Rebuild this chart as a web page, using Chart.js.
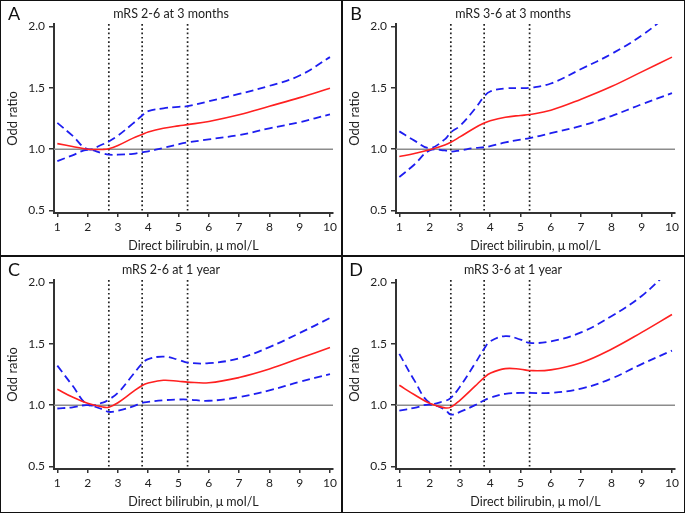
<!DOCTYPE html>
<html>
<head>
<meta charset="utf-8">
<script src="https://cdn.jsdelivr.net/npm/chart.js@4.4.1/dist/chart.umd.min.js"></script>
<style>
  html, body { margin: 0; padding: 0; background: #fff; }
  #fig { position: relative; width: 685px; height: 513px; }
  .frame { position: absolute; box-sizing: border-box; border: 1.5px solid #111; left: 0; top: 0; width: 685px; height: 513px; }
  .vdiv { position: absolute; left: 341px; top: 0; width: 1.5px; height: 513px; background: #111; }
  .hdiv { position: absolute; left: 0; top: 255px; width: 685px; height: 1.5px; background: #111; }
  canvas { position: absolute; }
</style>
</head>
<body>
<div id="fig">
  <div class="frame"></div>
  <div class="vdiv"></div>
  <div class="hdiv"></div>
  <canvas id="chartA" width="342" height="256" style="left:0;top:0"></canvas>
  <canvas id="chartB" width="342" height="256" style="left:342px;top:0"></canvas>
  <canvas id="chartC" width="342" height="256" style="left:0;top:256px"></canvas>
  <canvas id="chartD" width="342" height="256" style="left:342px;top:256px"></canvas>
</div>
<script>
// bilirubin values where the curves were read
const xs = [1, 1.5, 2, 2.5, 2.7, 3, 3.5, 3.8, 4, 4.5, 5, 5.3, 6, 7, 8, 9, 10];
const xTicks = [1, 2, 3, 4, 5, 6, 7, 8, 9, 10];
const yTicks = [0.5, 1.0, 1.5, 2.0];
const cutoffs = [2.7, 3.8, 5.3];
const refValue = 1.0;

const letters = ["A", "B", "C", "D"];
const titles = ["mRS 2-6 at 3 months", "mRS 3-6 at 3 months", "mRS 2-6 at 1 year", "mRS 3-6 at 1 year"];

// A: mRS 2-6 at 3 months
const aOR    = [1.045, 1.022, 1.00, 0.998, 1.003, 1.03, 1.09, 1.12, 1.14, 1.17, 1.19, 1.20, 1.226, 1.28, 1.35, 1.42, 1.497];
const aUpper = [1.214, 1.11, 1.0, 1.04, 1.063, 1.11, 1.21, 1.275, 1.31, 1.333, 1.345, 1.35, 1.39, 1.45, 1.516, 1.60, 1.75];
const aLower = [0.902, 0.95, 0.995, 0.965, 0.955, 0.955, 0.962, 0.975, 0.983, 1.01, 1.04, 1.055, 1.08, 1.115, 1.17, 1.22, 1.284];

// B: mRS 3-6 at 3 months
const bOR    = [0.94, 0.965, 0.995, 1.035, 1.057, 1.10, 1.175, 1.213, 1.232, 1.26, 1.275, 1.282, 1.317, 1.407, 1.51, 1.63, 1.75];
const bUpper = [1.145, 1.07, 1.01, 1.08, 1.137, 1.19, 1.33, 1.43, 1.47, 1.495, 1.497, 1.50, 1.535, 1.653, 1.776, 1.926, 2.12];
const bLower = [0.773, 0.875, 0.99, 0.99, 0.98, 0.99, 1.01, 1.016, 1.025, 1.055, 1.078, 1.09, 1.13, 1.19, 1.27, 1.366, 1.456];

// C: mRS 2-6 at 1 year
const cOR    = [1.13, 1.066, 1.015, 0.985, 0.984, 1.02, 1.11, 1.16, 1.18, 1.203, 1.195, 1.188, 1.183, 1.225, 1.294, 1.382, 1.47];
const cUpper = [1.322, 1.16, 1.005, 1.02, 1.046, 1.10, 1.25, 1.34, 1.375, 1.396, 1.37, 1.347, 1.342, 1.382, 1.473, 1.588, 1.71];
const cLower = [0.973, 0.982, 1.0, 0.965, 0.945, 0.955, 0.99, 1.019, 1.027, 1.04, 1.046, 1.046, 1.036, 1.066, 1.121, 1.19, 1.253];

// D: mRS 3-6 at 1 year
const dOR    = [1.162, 1.085, 1.015, 0.978, 0.984, 1.04, 1.155, 1.225, 1.26, 1.298, 1.293, 1.282, 1.288, 1.346, 1.456, 1.593, 1.739];
const dUpper = [1.418, 1.20, 1.02, 1.035, 1.06, 1.15, 1.34, 1.46, 1.52, 1.563, 1.535, 1.508, 1.52, 1.593, 1.725, 1.89, 2.12];
const dLower = [0.956, 0.978, 1.005, 0.965, 0.923, 0.945, 1.0, 1.04, 1.06, 1.093, 1.10, 1.10, 1.10, 1.135, 1.217, 1.335, 1.445];

const FONT = "Lato, 'Open Sans', sans-serif";
const RED = "rgb(255, 32, 32)";
const BLUE = "rgb(30, 30, 240)";

function pts(vals) {
  return xs.map((x, i) => ({ x: x, y: vals[i] }));
}

const decor = {
  id: "decor",
  beforeDatasetsDraw(chart, args, opts) {
    const { ctx, chartArea, scales } = chart;
    ctx.save();
    // reference line at OR = 1
    const y1 = scales.y.getPixelForValue(refValue);
    ctx.strokeStyle = "#8c8c8c";
    ctx.lineWidth = 1.5;
    ctx.beginPath();
    ctx.moveTo(chartArea.left, y1);
    ctx.lineTo(chartArea.right, y1);
    ctx.stroke();
    // dotted cut-off lines
    ctx.strokeStyle = "#222";
    ctx.lineWidth = 1.7;
    ctx.setLineDash([1.7, 2.6]);
    cutoffs.forEach(c => {
      const x = scales.x.getPixelForValue(c);
      ctx.beginPath();
      ctx.moveTo(x, chartArea.top);
      ctx.lineTo(x, chartArea.bottom);
      ctx.stroke();
    });
    ctx.restore();
  },
  afterDraw(chart, args, opts) {
    const ctx = chart.ctx;
    ctx.save();
    ctx.fillStyle = "#111";
    ctx.textBaseline = "middle";
    ctx.textAlign = "center";
    ctx.font = "18px " + FONT;
    ctx.fillText(opts.letter, 14, 14);
    ctx.font = "12.5px " + FONT;
    ctx.fillStyle = "#222";
    ctx.fillText(opts.title, 171, 14);
    ctx.restore();
  }
};

function makePanel(id, idx, orVals, upVals, loVals) {
  new Chart(document.getElementById(id), {
    type: "line",
    data: {
      datasets: [
        { data: pts(orVals), borderColor: RED, borderWidth: 1.6, pointRadius: 0, tension: 0.4 },
        { data: pts(upVals), borderColor: BLUE, borderWidth: 1.8, borderDash: [8, 4.5], pointRadius: 0, tension: 0.4 },
        { data: pts(loVals), borderColor: BLUE, borderWidth: 1.8, borderDash: [8, 4.5], pointRadius: 0, tension: 0.4 }
      ]
    },
    options: {
      responsive: false,
      animation: false,
      layout: { padding: { top: 24, right: 9, left: 0, bottom: 0 } },
      plugins: {
        legend: { display: false },
        tooltip: { enabled: false },
        decor: { letter: letters[idx], title: titles[idx] }
      },
      scales: {
        x: {
          type: "linear",
          min: 0.89,
          max: 10.1,
          afterBuildTicks: s => { s.ticks = xTicks.map(v => ({ value: v })); },
          afterFit: s => { s.height = 43; },
          grid: { drawOnChartArea: false, drawTicks: true, tickLength: 4, color: "#333", lineWidth: 1.5 },
          border: { display: true, color: "#333", width: 2 },
          ticks: { color: "#222", font: { family: FONT, size: 12 }, padding: 3, maxRotation: 0, autoSkip: false },
          title: { display: true, text: "Direct bilirubin, μ mol/L", color: "#222", font: { family: FONT, size: 12.5 }, padding: { top: 0, bottom: 3 } }
        },
        y: {
          min: 0.48,
          max: 2.02,
          afterBuildTicks: s => { s.ticks = yTicks.map(v => ({ value: v })); },
          afterFit: s => { s.width = 54; },
          grid: { drawOnChartArea: false, drawTicks: true, tickLength: 5, color: "#333", lineWidth: 1.5 },
          border: { display: true, color: "#333", width: 2 },
          ticks: { color: "#222", font: { family: FONT, size: 12 }, padding: 4, callback: v => Number(v).toFixed(1) },
          title: { display: true, text: "Odd ratio", color: "#222", font: { family: FONT, size: 13 }, padding: { top: 5, bottom: 0 } }
        }
      }
    },
    plugins: [decor]
  });
}

makePanel("chartA", 0, aOR, aUpper, aLower);
makePanel("chartB", 1, bOR, bUpper, bLower);
makePanel("chartC", 2, cOR, cUpper, cLower);
makePanel("chartD", 3, dOR, dUpper, dLower);
</script>
</body>
</html>
